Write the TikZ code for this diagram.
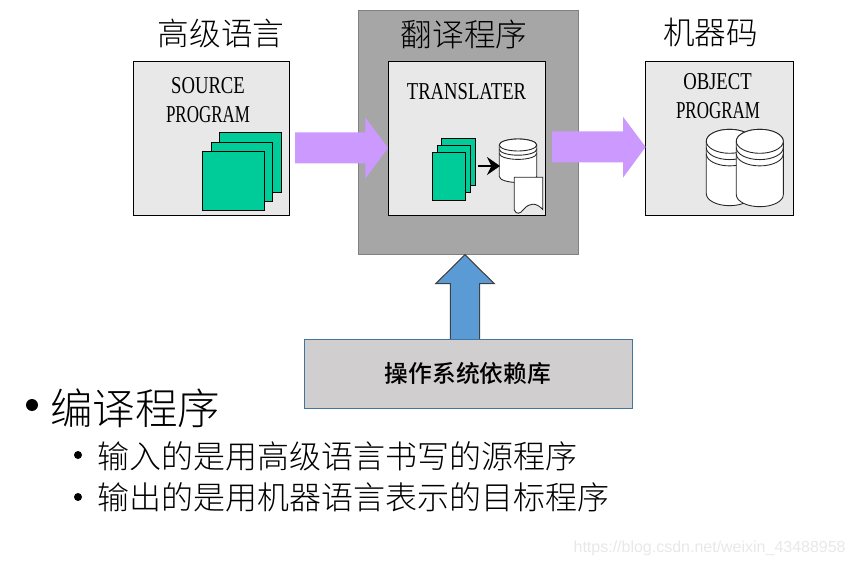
\documentclass[tikz,border=0pt]{standalone}
\usepackage{fontspec}
\usetikzlibrary{arrows.meta}
\setmainfont{Noto Sans CJK SC Light}
\newfontfamily\libfont{Noto Sans CJK SC Medium}
\newfontfamily\latinfont[FakeStretch=0.77]{Liberation Serif}
\newfontfamily\narrowfont[FakeStretch=0.70]{Liberation Serif}
\newfontfamily\markfont{Liberation Sans}
\definecolor{sheetgreen}{HTML}{00CC99}
\definecolor{flowpurple}{HTML}{CC99FF}
\definecolor{libblue}{HTML}{5B9BD5}
\definecolor{libgray}{HTML}{D0CECE}
\tikzset{
    panel/.style={draw=black, line width=0.6pt, fill=black!9},
    sheet/.style={draw=black, line width=0.6pt, fill=sheetgreen},
    disk/.style={draw=black!85, line width=0.5pt, fill=white},
    title/.style={font=\fontsize{18}{18}\selectfont, text=black},
    latin/.style={font=\latinfont\fontsize{13.8}{14}\selectfont, text=black},
    narrow/.style={font=\narrowfont\fontsize{13.8}{14}\selectfont, text=black},
    big item/.style={font=\fontsize{24.2}{24}\selectfont, text=black},
    sub item/.style={font=\fontsize{18.2}{18}\selectfont, text=black},
    dot/.style={circle, fill=black, inner sep=0pt}
}
\begin{document}
\begin{tikzpicture}[x=0.02cm, y=-0.02cm]
    \useasboundingbox (0, 0) rectangle (855, 567);
    % source program
    \draw[panel] (133.5, 61.5) rectangle (289.5, 215.8);
    \draw[sheet] (219.5, 132.7) rectangle (281.7, 192.7);
    \draw[sheet] (211.3, 142.3) rectangle (272.7, 201.3);
    \draw[sheet] (202.3, 151.3) rectangle (264.7, 210.3);
    \node[title] (srctitle) at (221, 34) {高级语言};
    \node[latin] (srcone) at (208, 86) {SOURCE};
    \node[narrow] (srctwo) at (208, 115) {PROGRAM};
    % translator
    \draw[draw=black!50, line width=0.7pt, fill=black!35] (358.3, 10.5) rectangle (578.7, 254.3);
    \draw[panel] (388.3, 61.5) rectangle (545.7, 215.8);
    \node[title] (transtitle) at (464, 34) {翻译程序};
    \node[latin] (transtext) at (466.5, 92) {TRANSLATER};
    \draw[sheet] (441.3, 138.3) rectangle (475.7, 185.3);
    \draw[sheet] (437.3, 145.3) rectangle (470.7, 192.7);
    \draw[sheet] (432.3, 152.3) rectangle (465.7, 200.3);
    % object program
    \draw[panel] (645.7, 61.5) rectangle (793.3, 215.8);
    \node[title] (objtitle) at (710.5, 32) {机器码};
    \node[latin] (objone) at (717.5, 82) {OBJECT};
    \node[narrow] (objtwo) at (718, 111) {PROGRAM};
    % disks
    \foreach \cx/\rx/\top/\bot/\ry/\gap in {518/18.7/145/176.5/6/4.2, 729.6/23.3/141.3/193.7/12/6.3, 759.8/23.5/141.3/194.7/12/6.3} {
        \draw[disk] (\cx-\rx, \top) -- (\cx-\rx, \bot) arc[start angle=180, end angle=0, x radius=\rx, y radius=\ry]
            -- (\cx+\rx, \top) arc[start angle=0, end angle=-180, x radius=\rx, y radius=\ry] -- cycle;
        \draw[disk] (\cx, \top) ellipse[x radius=\rx, y radius=\ry];
        \draw[disk, fill=none] (\cx-\rx, \top+\gap) arc[start angle=180, end angle=0, x radius=\rx, y radius=\ry];
        \draw[disk, fill=none] (\cx-\rx, \top+2*\gap) arc[start angle=180, end angle=0, x radius=\rx, y radius=\ry];
    }
    % page under the small disk
    \draw[disk] (514.3, 177.3) -- (542.7, 177.3) -- (542.7, 209.5)
        .. controls (536, 202) and (529, 203) .. (524, 209)
        .. controls (520, 214.5) and (516, 214.5) .. (514.3, 210) -- cycle;
    \coordinate (feedstart) at (478, 166);
    \coordinate (feedend) at (500, 166);
    \draw[-{Stealth[length=13pt*0.57, width=18pt*0.57, inset=2.5pt]}, line width=0.6pt] (feedstart) -- (feedend);
    % block arrows
    \fill[flowpurple] (295, 132.3) -- (365.3, 132.3) -- (365.3, 117.3) -- (388, 148) -- (365.3, 178.7) -- (365.3, 163.3) -- (295, 163.3) -- cycle;
    \fill[flowpurple] (552, 131.3) -- (623, 131.3) -- (623, 116.7) -- (645.7, 147) -- (623, 177.7) -- (623, 162.3) -- (552, 162.3) -- cycle;
    \draw[draw=black!75, line width=0.6pt, fill=libblue] (450.3, 339.3) -- (450.3, 283.7) -- (435.7, 283.7) -- (465, 254.7) -- (494.3, 283.7) -- (479.7, 283.7) -- (479.7, 339.3);
    % system library
    \draw[draw=libblue!75!black, line width=0.6pt, fill=libgray] (304.3, 339.3) rectangle (632.3, 408.3);
    \node[font=\libfont\fontsize{13.5}{14}\selectfont, text=black] (libtext) at (468, 373) {操作系统依赖库};
    % list below
    \node[dot, minimum size=12*0.02cm] (bigdot) at (32, 405) {};
    \node[big item, anchor=west, inner sep=0pt] (bigtext) at (50, 408) {编译程序};
    \node[dot, minimum size=8*0.02cm] (dotone) at (78, 455) {};
    \node[sub item, anchor=west, inner sep=0pt] (lineone) at (97, 456) {输入的是用高级语言书写的源程序};
    \node[dot, minimum size=8*0.02cm] (dottwo) at (78, 497) {};
    \node[sub item, anchor=west, inner sep=0pt] (linetwo) at (97, 497) {输出的是用机器语言表示的目标程序};
    \node[font=\markfont\fontsize{9.1}{10}\selectfont, text=black!9, anchor=east, inner sep=0pt] (weburl) at (846, 548) {https://blog.csdn.net/weixin\_43488958};
\end{tikzpicture}
\end{document}
